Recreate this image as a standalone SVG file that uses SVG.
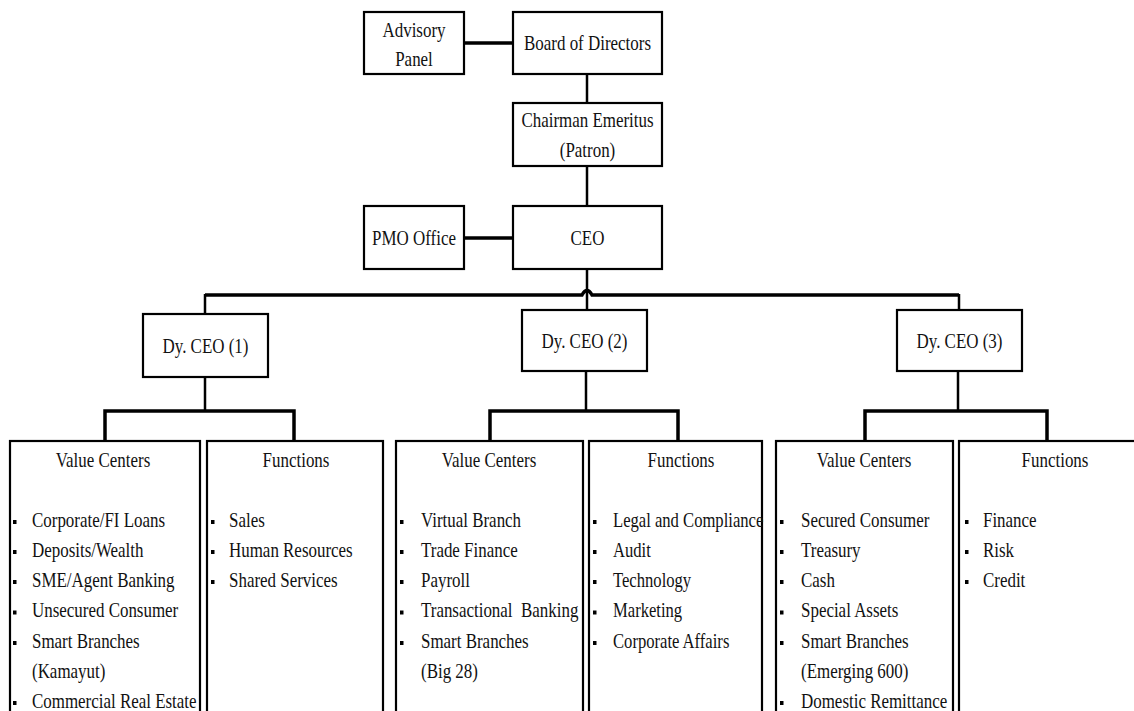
<svg xmlns="http://www.w3.org/2000/svg" width="1134" height="711" viewBox="0 0 1134 711">
<style>
.box{fill:#fff;stroke:#000;stroke-width:2.2}
.t{font-family:"Liberation Serif","Times New Roman",serif;font-size:22px;fill:#111}
.c{text-anchor:middle}
.bus{fill:none;stroke:#000;stroke-width:3.5}
.v{fill:none;stroke:#000;stroke-width:2.5}
.b{fill:#000}
</style>
<rect width="1134" height="711" fill="#fff"/>
<g id="connectors">
<line class="bus" x1="464" y1="43" x2="513" y2="43"/>
<line class="v" x1="587" y1="74" x2="587" y2="103"/>
<line class="v" x1="587" y1="166" x2="587" y2="206"/>
<line class="bus" x1="464" y1="238" x2="513" y2="238"/>
<line class="v" x1="587" y1="269" x2="587" y2="310"/>
<path class="bus" d="M205,295 H582 Q587,286 592,295 H959"/>
<line class="v" x1="205" y1="294" x2="205" y2="314"/>
<line class="v" x1="959" y1="294" x2="959" y2="310"/>
<line class="v" x1="205" y1="377" x2="205" y2="411"/>
<line class="v" x1="586" y1="371" x2="586" y2="411"/>
<line class="v" x1="958" y1="371" x2="958" y2="411"/>
<path class="bus" d="M105,441 V411 H294 V441"/>
<path class="bus" d="M490,441 V411 H678 V441"/>
<path class="bus" d="M865,441 V411 H1047 V441"/>
</g>
<g id="advisory">
<rect class="box" x="364" y="12" width="100" height="62"/>
<text class="t c" transform="translate(414,37) scale(0.77,1)">Advisory</text>
<text class="t c" transform="translate(414,66) scale(0.77,1)">Panel</text>
</g>
<g id="board">
<rect class="box" x="513" y="12" width="149" height="62"/>
<text class="t c" transform="translate(587.5,50) scale(0.77,1)">Board of Directors</text>
</g>
<g id="chairman">
<rect class="box" x="513" y="103" width="149" height="63"/>
<text class="t c" transform="translate(587.5,127) scale(0.77,1)">Chairman Emeritus</text>
<text class="t c" transform="translate(587.5,157) scale(0.77,1)">(Patron)</text>
</g>
<g id="pmo">
<rect class="box" x="364" y="206" width="100" height="63"/>
<text class="t c" transform="translate(414,245) scale(0.77,1)">PMO Office</text>
</g>
<g id="ceo">
<rect class="box" x="513" y="206" width="149" height="63"/>
<text class="t c" transform="translate(587.5,245) scale(0.77,1)">CEO</text>
</g>
<g id="dyceo1">
<rect class="box" x="143" y="314" width="125" height="63"/>
<text class="t c" transform="translate(205.5,353) scale(0.77,1)">Dy. CEO (1)</text>
</g>
<g id="dyceo2">
<rect class="box" x="522" y="310" width="125" height="61"/>
<text class="t c" transform="translate(584.5,348) scale(0.77,1)">Dy. CEO (2)</text>
</g>
<g id="dyceo3">
<rect class="box" x="897" y="310" width="125" height="61"/>
<text class="t c" transform="translate(959.5,348) scale(0.77,1)">Dy. CEO (3)</text>
</g>
<g id="vc1">
<rect class="box" x="10" y="441" width="190" height="290"/>
<text class="t c" transform="translate(103,467) scale(0.77,1)">Value Centers</text>
<g class="b"><rect x="13" y="520" width="3.5" height="4"/><rect x="13" y="550" width="3.5" height="4"/><rect x="13" y="580" width="3.5" height="4"/><rect x="13" y="610.5" width="3.5" height="4"/><rect x="13" y="641" width="3.5" height="4"/><rect x="13" y="701" width="3.5" height="4"/></g>
<text class="t" transform="translate(32,0) scale(0.77,1)"><tspan x="0" y="527">Corporate/FI Loans</tspan><tspan x="0" y="557">Deposits/Wealth</tspan><tspan x="0" y="587">SME/Agent Banking</tspan><tspan x="0" y="617.5">Unsecured Consumer</tspan><tspan x="0" y="648">Smart Branches</tspan><tspan x="0" y="678">(Kamayut)</tspan><tspan x="0" y="708">Commercial Real Estate</tspan></text>
</g>
<g id="fn1">
<rect class="box" x="207" y="441" width="176" height="290"/>
<text class="t c" transform="translate(296,467) scale(0.77,1)">Functions</text>
<g class="b"><rect x="211" y="520" width="3.5" height="4"/><rect x="211" y="550" width="3.5" height="4"/><rect x="211" y="580" width="3.5" height="4"/></g>
<text class="t" transform="translate(229,0) scale(0.77,1)"><tspan x="0" y="527">Sales</tspan><tspan x="0" y="557">Human Resources</tspan><tspan x="0" y="587">Shared Services</tspan></text>
</g>
<g id="vc2">
<rect class="box" x="396" y="441" width="187" height="290"/>
<text class="t c" transform="translate(489,467) scale(0.77,1)">Value Centers</text>
<g class="b"><rect x="400" y="520" width="3.5" height="4"/><rect x="400" y="550" width="3.5" height="4"/><rect x="400" y="580" width="3.5" height="4"/><rect x="400" y="610.5" width="3.5" height="4"/><rect x="400" y="641" width="3.5" height="4"/></g>
<text class="t" transform="translate(421,0) scale(0.77,1)"><tspan x="0" y="527">Virtual Branch</tspan><tspan x="0" y="557">Trade Finance</tspan><tspan x="0" y="587">Payroll</tspan><tspan x="0" y="617.5">Transactional&#160; Banking</tspan><tspan x="0" y="648">Smart Branches</tspan><tspan x="0" y="678">(Big 28)</tspan></text>
</g>
<g id="fn2">
<rect class="box" x="589" y="441" width="173" height="290"/>
<text class="t c" transform="translate(681,467) scale(0.77,1)">Functions</text>
<g class="b"><rect x="593" y="520" width="3.5" height="4"/><rect x="593" y="550" width="3.5" height="4"/><rect x="593" y="580" width="3.5" height="4"/><rect x="593" y="610.5" width="3.5" height="4"/><rect x="593" y="641" width="3.5" height="4"/></g>
<text class="t" transform="translate(613,0) scale(0.755,1)"><tspan x="0" y="527">Legal and Compliance</tspan><tspan x="0" y="557">Audit</tspan><tspan x="0" y="587">Technology</tspan><tspan x="0" y="617.5">Marketing</tspan><tspan x="0" y="648">Corporate Affairs</tspan></text>
</g>
<g id="vc3">
<rect class="box" x="776" y="441" width="177" height="290"/>
<text class="t c" transform="translate(864,467) scale(0.77,1)">Value Centers</text>
<g class="b"><rect x="780" y="520" width="3.5" height="4"/><rect x="780" y="550" width="3.5" height="4"/><rect x="780" y="580" width="3.5" height="4"/><rect x="780" y="610.5" width="3.5" height="4"/><rect x="780" y="641" width="3.5" height="4"/><rect x="780" y="701" width="3.5" height="4"/></g>
<text class="t" transform="translate(801,0) scale(0.77,1)"><tspan x="0" y="527">Secured Consumer</tspan><tspan x="0" y="557">Treasury</tspan><tspan x="0" y="587">Cash</tspan><tspan x="0" y="617.5">Special Assets</tspan><tspan x="0" y="648">Smart Branches</tspan><tspan x="0" y="678">(Emerging 600)</tspan><tspan x="0" y="708">Domestic Remittance</tspan></text>
</g>
<g id="fn3">
<rect class="box" x="959" y="441" width="192" height="290"/>
<text class="t c" transform="translate(1055,467) scale(0.77,1)">Functions</text>
<g class="b"><rect x="965" y="520" width="3.5" height="4"/><rect x="965" y="550" width="3.5" height="4"/><rect x="965" y="580" width="3.5" height="4"/></g>
<text class="t" transform="translate(983,0) scale(0.77,1)"><tspan x="0" y="527">Finance</tspan><tspan x="0" y="557">Risk</tspan><tspan x="0" y="587">Credit</tspan></text>
</g>
</svg>
